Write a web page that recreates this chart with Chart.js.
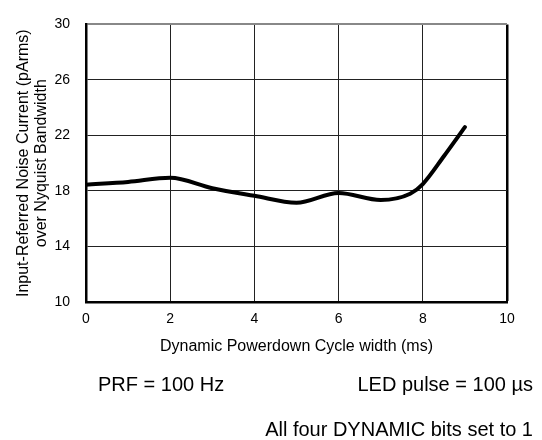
<!DOCTYPE html>
<html>
<head>
<meta charset="utf-8">
<script src="https://cdn.jsdelivr.net/npm/chart.js@4.4.1/dist/chart.umd.min.js"></script>
<style>
    body { margin: 0; background: #fff; }
    #wrap { position: relative; width: 542px; height: 440px; font-family: "Liberation Sans", Arial, sans-serif; }
    .note { position: absolute; font-size: 20px; line-height: 20px; color: #000; white-space: nowrap; }
</style>
</head>
<body>
<div id="wrap">
    <canvas id="noiseChart"></canvas>
    <div class="note" style="left: 98px; top: 374px;">PRF = 100 Hz</div>
    <div class="note" style="right: 9px; top: 374px;">LED pulse = 100 µs</div>
    <div class="note" style="right: 9px; top: 419px;">All four DYNAMIC bits set to 1</div>
</div>
<script>
// Dynamic powerdown cycle width (ms) vs input-referred noise (pArms)
const cycleWidth = [0, 1, 2, 3, 4, 5, 6, 7, 7.7, 8, 8.5, 9];
const noiseCurrent = [18.45, 18.65, 18.95, 18.2, 17.65, 17.15, 17.85, 17.35, 17.8, 18.5, 20.5, 22.6];
const xTicks = [0, 2, 4, 6, 8, 10];
const yTicks = [10, 14, 18, 22, 26, 30];

const fontFamily = '"Liberation Sans", Arial, sans-serif';

const ctx = document.getElementById('noiseChart').getContext('2d');
new Chart(ctx, {
    type: 'line',
    data: {
        datasets: [{
            data: cycleWidth.map((x, i) => ({ x: x, y: noiseCurrent[i] })),
            borderColor: '#000',
            borderWidth: 4,
            pointRadius: 0,
            fill: false,
            cubicInterpolationMode: 'monotone',
            borderCapStyle: 'round'
        }]
    },
    options: {
        responsive: true,
        maintainAspectRatio: false,
        animation: false,
        layout: { padding: { left: 0, top: 15, right: 35, bottom: 80 } },
        plugins: {
            legend: { display: false },
            tooltip: { enabled: false }
        },
        scales: {
            x: {
                type: 'linear',
                min: 0,
                max: 10,
                afterBuildTicks: axis => { axis.ticks = xTicks.map(v => ({ value: v })); },
                afterFit: axis => { axis.height = 58; },
                ticks: {
                    color: '#000',
                    padding: 9,
                    font: { family: fontFamily, size: 14 }
                },
                grid: {
                    drawTicks: false,
                    color: c => c.tick && c.tick.value === 10 ? '#000' : '#222',
                    lineWidth: c => c.tick && c.tick.value === 10 ? 2.5 : 1
                },
                border: { color: '#000', width: 2.5 },
                title: {
                    display: true,
                    text: 'Dynamic Powerdown Cycle width (ms)',
                    color: '#000',
                    font: { family: fontFamily, size: 16 },
                    padding: { top: 4, bottom: 4 }
                }
            },
            y: {
                type: 'linear',
                min: 10,
                max: 30,
                afterBuildTicks: axis => { axis.ticks = yTicks.map(v => ({ value: v })); },
                afterFit: axis => { axis.width = 86; },
                ticks: {
                    color: '#000',
                    padding: 16,
                    font: { family: fontFamily, size: 14 }
                },
                grid: {
                    drawTicks: false,
                    color: c => c.tick && c.tick.value === 30 ? '#888' : '#222',
                    lineWidth: c => c.tick && c.tick.value === 30 ? 2 : 1
                },
                border: { color: '#000', width: 2.5 },
                title: {
                    display: true,
                    text: ['Input-Referred Noise Current (pArms)', 'over Nyquist Bandwidth'],
                    color: '#000',
                    font: { family: fontFamily, size: 16, lineHeight: 1.1 },
                    padding: { top: 15, bottom: 4 }
                }
            }
        }
    }
});
</script>
</body>
</html>
